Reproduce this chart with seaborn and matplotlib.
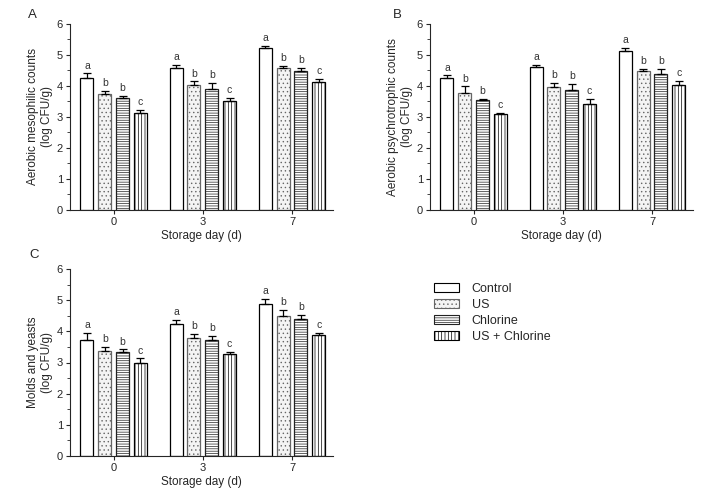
import numpy as np
import pandas as pd
import seaborn as sns
import matplotlib
matplotlib.use("Agg")
import matplotlib.pyplot as plt
from matplotlib.patches import Patch

# data
days = ["0", "3", "7"]
treatments = ["Control", "US", "Chlorine", "US + Chlorine"]

# means per treatment, in order of days 0, 3, 7
meso_mean = {"Control": [4.25, 4.59, 5.24], "US": [3.73, 4.02, 4.57],
             "Chlorine": [3.60, 3.90, 4.48], "US + Chlorine": [3.14, 3.51, 4.13]}
meso_sd = {"Control": [0.16, 0.09, 0.06], "US": [0.10, 0.13, 0.09],
           "Chlorine": [0.07, 0.21, 0.11], "US + Chlorine": [0.09, 0.11, 0.10]}

psych_mean = {"Control": [4.27, 4.62, 5.14], "US": [3.76, 3.98, 4.48],
              "Chlorine": [3.55, 3.86, 4.39], "US + Chlorine": [3.10, 3.42, 4.04]}
psych_sd = {"Control": [0.07, 0.07, 0.09], "US": [0.23, 0.13, 0.07],
            "Chlorine": [0.04, 0.20, 0.17], "US + Chlorine": [0.04, 0.17, 0.12]}

mold_mean = {"Control": [3.72, 4.22, 4.88], "US": [3.36, 3.78, 4.49],
             "Chlorine": [3.35, 3.72, 4.38], "US + Chlorine": [2.97, 3.26, 3.88]}
mold_sd = {"Control": [0.23, 0.14, 0.16], "US": [0.13, 0.13, 0.19],
           "Chlorine": [0.07, 0.13, 0.14], "US + Chlorine": [0.16, 0.09, 0.06]}

letters = {"Control": ["a", "a", "a"], "US": ["b", "b", "b"],
           "Chlorine": ["b", "b", "b"], "US + Chlorine": ["c", "c", "c"]}

ylabels = ["Aerobic mesophilic counts\n(log CFU/g)",
           "Aerobic psychrotrophic counts\n(log CFU/g)",
           "Molds and yeasts\n(log CFU/g)"]
panel_tags = ["A", "B", "C"]

hatches = {"Control": "", "US": "....", "Chlorine": "-------", "US + Chlorine": "|||||"}
faces = {"Control": "white", "US": "#f4f4f4", "Chlorine": "white", "US + Chlorine": "white"}
edges = {"Control": "black", "US": "#666666", "Chlorine": "#222222", "US + Chlorine": "black"}

sns.set_style("ticks")
plt.rcParams["font.family"] = ["Liberation Sans", "DejaVu Sans"]
plt.rcParams["hatch.linewidth"] = 0.5

fig = plt.figure(figsize=(7.16, 4.92), dpi=100)
W, H = 716, 492
boxes = [(70, 24, 263, 186), (430, 24, 263, 186), (70, 269, 263, 187)]
tag_pos = [(28, 15), (393, 15), (29, 255)]


def draw(ax, means, sds, ylabel):
    df = pd.DataFrame([(d, t, means[t][i]) for t in treatments for i, d in enumerate(days)],
                      columns=["day", "treatment", "value"])
    sns.barplot(data=df, x="day", y="value", hue="treatment", order=days,
                hue_order=treatments, errorbar=None, width=0.8, gap=0.27,
                legend=False, ax=ax, edgecolor="black", linewidth=0.9)
    for t, cont in zip(treatments, ax.containers):
        for i, bar in enumerate(cont):
            bar.set_facecolor(faces[t])
            bar.set_edgecolor(edges[t])
            bar.set_hatch(hatches[t])
            xc = bar.get_x() + bar.get_width() / 2
            h = bar.get_height()
            ax.errorbar(xc, h, yerr=[[0], [sds[t][i]]], color="black",
                        capsize=3, elinewidth=0.9, capthick=0.9)
            ax.annotate(letters[t][i], (xc, h + sds[t][i]), xytext=(0, 2),
                        textcoords="offset points", ha="center", va="bottom",
                        fontsize=7.5, color="#333333")
    ax.set_ylim(0, 6)
    ax.set_xlim(-0.49, 2.46)
    ax.set_yticks(range(0, 7))
    ax.set_yticks(np.arange(0.5, 6, 1), minor=True)
    ax.tick_params(axis="both", labelsize=8, length=3, width=0.8, pad=2)
    ax.tick_params(axis="y", which="minor", length=2, width=0.6)
    ax.set_xlabel("Storage day (d)", fontsize=8.5, labelpad=2)
    ax.set_ylabel(ylabel, fontsize=8.5, labelpad=3)
    sns.despine(ax=ax)
    for s in ["left", "bottom"]:
        ax.spines[s].set_linewidth(0.8)


means_all = [meso_mean, psych_mean, mold_mean]
sds_all = [meso_sd, psych_sd, mold_sd]
for k in range(3):
    x0, y0, w, h = boxes[k]
    ax = fig.add_axes([x0 / W, 1 - (y0 + h) / H, w / W, h / H])
    draw(ax, means_all[k], sds_all[k], ylabels[k])
    tx, ty = tag_pos[k]
    fig.text(tx / W, 1 - ty / H, panel_tags[k], fontsize=9.5, va="center", ha="left")

handles = [Patch(facecolor=faces[t], edgecolor=edges[t], hatch=hatches[t], linewidth=0.8)
           for t in treatments]
fig.legend(handles, treatments, loc="upper left", bbox_to_anchor=(423 / W, 1 - 272 / H),
           frameon=False, fontsize=9, handlelength=2.0, handleheight=0.75,
           labelspacing=0.3, handletextpad=1.0)

fig.savefig("out.png", dpi=100)
